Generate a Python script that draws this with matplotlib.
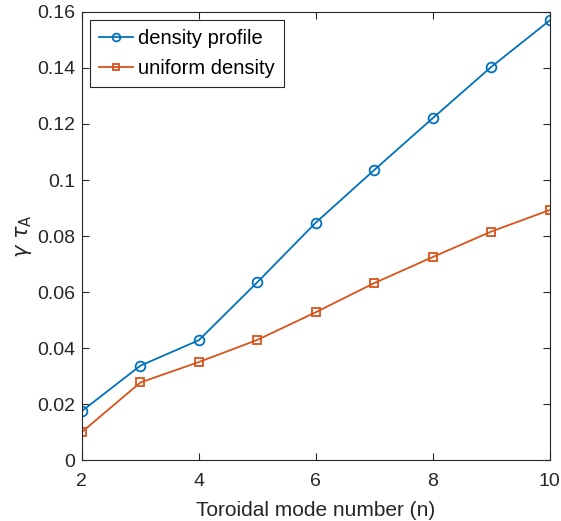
import matplotlib.pyplot as plt
import numpy as np

plt.rcParams['font.family'] = ['Liberation Sans', 'DejaVu Sans']
plt.rcParams['mathtext.fontset'] = 'dejavusans'

# data
n = [2, 3, 4, 5, 6, 7, 8, 9, 10]
density_profile = [0.0175, 0.0337, 0.0428, 0.0635, 0.0848, 0.1036, 0.1221, 0.1404, 0.1570]
uniform_density = [0.0100, 0.0277, 0.0350, 0.0429, 0.0528, 0.0632, 0.0725, 0.0816, 0.0893]

fig = plt.figure(figsize=(5.61, 5.21), dpi=100)
ax = fig.add_axes([0.146, 0.117, 0.834, 0.860])

ax.plot(n, density_profile, color='#0072BD', marker='o', markersize=7,
        markerfacecolor='none', markeredgewidth=1.3, linewidth=1.3, label='density profile')
ax.plot(n, uniform_density, color='#D95319', marker='s', markersize=6,
        markerfacecolor='none', markeredgewidth=1.3, linewidth=1.3, label='uniform density')

ax.set_xlim(2, 10)
ax.set_ylim(0, 0.16)
ax.set_xticks([2, 4, 6, 8, 10])
ax.set_yticks(np.arange(0, 0.161, 0.02))
ax.set_yticklabels(['0', '0.02', '0.04', '0.06', '0.08', '0.1', '0.12', '0.14', '0.16'])

ax.tick_params(direction='in', length=5, width=0.8, labelsize=14, colors='#262626',
               top=True, right=True, pad=5)
ax.tick_params(axis='x', pad=9)
for s in ax.spines.values():
    s.set_color('#262626')
    s.set_linewidth(0.8)

ax.set_xlabel('Toroidal mode number (n)', fontsize=15, color='#262626', labelpad=8)
ax.set_ylabel(r'$\gamma\ \tau_\mathrm{A}$', fontsize=15, color='#262626', labelpad=2)

leg = ax.legend(loc='upper left', fontsize=14.5, fancybox=False, framealpha=1,
                edgecolor='#262626', borderaxespad=0.4, handlelength=1.7,
                handletextpad=0.25, borderpad=0.45, labelspacing=0.55,
                markerscale=0.8)
leg.get_frame().set_linewidth(0.8)

plt.savefig('out.png', dpi=100)
